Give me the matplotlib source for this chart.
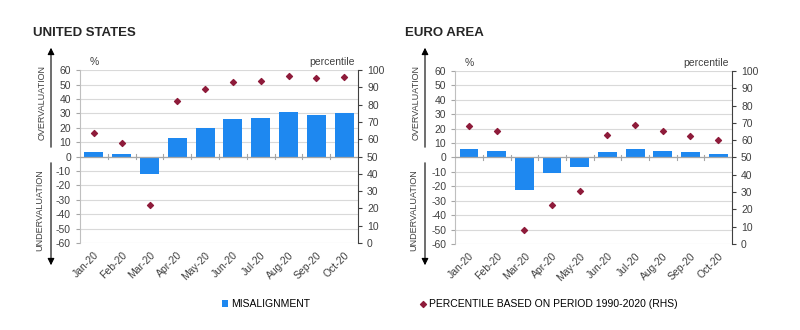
import matplotlib
matplotlib.use("Agg")
import matplotlib.pyplot as plt
import numpy as np

plt.rcParams["font.family"] = ["Liberation Sans", "DejaVu Sans"]
plt.rcParams["axes.unicode_minus"] = False

months = ["Jan-20", "Feb-20", "Mar-20", "Apr-20", "May-20",
          "Jun-20", "Jul-20", "Aug-20", "Sep-20", "Oct-20"]

us_misalign = [3.0, 1.6, -12.0, 12.7, 19.6, 26.0, 26.5, 30.9, 29.0, 30.2]
us_pctile = [63.5, 58.0, 21.8, 82.0, 89.0, 93.0, 93.8, 96.5, 95.6, 96.0]

ea_misalign = [5.9, 4.5, -22.5, -10.9, -6.3, 3.8, 5.6, 4.5, 4.0, 2.6]
ea_pctile = [68.4, 65.0, 8.1, 22.3, 30.4, 63.0, 68.8, 65.3, 62.6, 60.3]

BAR = "#1E88F0"
DOT = "#8E1B3A"
GRID = "#D9D9D9"

fig = plt.figure(figsize=(8, 3.3), dpi=100)


def panel(rect, title, title_x, arrow_x, misalign, pctile):
    ax = fig.add_axes(rect)
    x = np.arange(len(months))
    bars = ax.bar(x, misalign, width=0.68, color=BAR, zorder=3)
    ax.set_ylim(-60, 60)
    ax.set_yticks(np.arange(-60, 61, 10))
    ax.set_xlim(-0.5, len(months) - 0.5)
    ax.grid(axis="y", color=GRID, linewidth=0.8, zorder=0)
    ax.axhline(0, color="#A6A6A6", linewidth=0.9, zorder=4)
    # little ticks on the zero line between categories
    for b in x[:-1] + 0.5:
        ax.plot([b, b], [-1.8, 1.8], color="#A6A6A6", linewidth=0.8, zorder=4)
    ax.set_xticks(x)
    ax.set_xticklabels(months, rotation=45, ha="right", rotation_mode="anchor",
                       fontsize=7.5, color="#404040")
    ax.tick_params(axis="x", length=0, pad=5)
    ax.tick_params(axis="y", labelsize=7.5, colors="#404040", length=3, color="#A6A6A6")
    for s in ["top", "right", "bottom"]:
        ax.spines[s].set_visible(False)
    ax.spines["left"].set_color("#BFBFBF")

    ax2 = ax.twinx()
    pts = ax2.scatter(x, pctile, marker="D", s=9, color=DOT, zorder=5)
    ax2.set_ylim(0, 100)
    ax2.set_yticks(np.arange(0, 101, 10))
    ax2.tick_params(axis="y", labelsize=7.5, colors="#404040", length=3, color="#404040")
    for s in ["top", "left", "bottom"]:
        ax2.spines[s].set_visible(False)
    ax2.spines["right"].set_color("#404040")

    ax.text(0.035, 1.03, "%", transform=ax.transAxes, fontsize=7.5, color="#404040")
    ax2.text(0.99, 1.03, "percentile", transform=ax.transAxes, fontsize=7.5,
             color="#404040", ha="right")

    fig.text(title_x, 1 - 33 / 330, title, fontsize=9.5, fontweight="bold",
             va="center", color="#262626")

    # over / under valuation arrows
    ax_x = arrow_x / 800
    fig.add_artist(matplotlib.patches.FancyArrowPatch(
        (ax_x, 1 - 150 / 330), (ax_x, 1 - 45 / 330), transform=fig.transFigure,
        arrowstyle="-|>,head_length=4,head_width=2", color="black", linewidth=0.8))
    fig.add_artist(matplotlib.patches.FancyArrowPatch(
        (ax_x, 1 - 160 / 330), (ax_x, 1 - 268 / 330), transform=fig.transFigure,
        arrowstyle="-|>,head_length=4,head_width=2", color="black", linewidth=0.8))
    fig.text(ax_x - 9 / 800, 1 - 103 / 330, "OVERVALUATION", rotation=90,
             fontsize=6.5, ha="center", va="center", color="#404040")
    fig.text(ax_x - 11 / 800, 1 - 210 / 330, "UNDERVALUATION", rotation=90,
             fontsize=6.5, ha="center", va="center", color="#404040")
    return bars, pts


bars, _ = panel([0.1, 0.2636, 0.3475, 0.524], "UNITED STATES", 33 / 800, 51,
                us_misalign, us_pctile)
_, pts = panel([0.569, 0.2606, 0.346, 0.5245], "EURO AREA", 405 / 800, 425,
               ea_misalign, ea_pctile)

fig.legend([bars], ["MISALIGNMENT"], loc="center left",
           bbox_to_anchor=(222 / 800, 1 - 304 / 330), frameon=False,
           fontsize=7.5, handlelength=0.6, handleheight=0.6, handletextpad=0.3,
           borderaxespad=0, borderpad=0)
fig.legend([pts], ["PERCENTILE BASED ON PERIOD 1990-2020 (RHS)"], loc="center left",
           bbox_to_anchor=(420 / 800, 1 - 304 / 330), frameon=False,
           fontsize=7.5, handlelength=0.6, handletextpad=0.3,
           borderaxespad=0, borderpad=0)

fig.savefig("out.png", dpi=100)
